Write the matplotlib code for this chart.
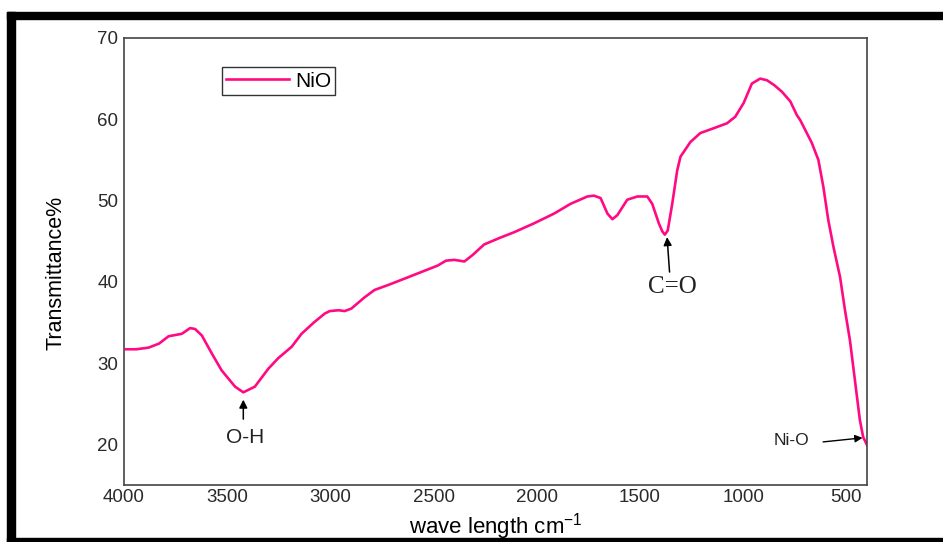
import matplotlib
matplotlib.use('Agg')
import matplotlib.pyplot as plt
from matplotlib.patches import Rectangle

plt.rcParams['font.family'] = ['Liberation Sans', 'DejaVu Sans']
plt.rcParams['mathtext.fontset'] = 'custom'
plt.rcParams['mathtext.rm'] = 'Liberation Sans'

# FTIR spectrum of NiO (wavenumber in cm-1, transmittance in %)
wavenumber = [3990, 3940, 3881, 3830, 3784, 3720, 3680, 3656, 3623, 3575,
              3527, 3462, 3422, 3366, 3301, 3253, 3188, 3140, 3080, 3027,
              3003, 2960, 2931, 2899, 2834, 2786, 2721, 2640, 2560, 2480,
              2440, 2400, 2375, 2351, 2311, 2255, 2180, 2110, 2013, 1916,
              1836, 1755, 1723, 1691, 1658, 1634, 1610, 1562, 1513, 1465,
              1441, 1409, 1392, 1380, 1366, 1344, 1320, 1304, 1256, 1208,
              1143, 1079, 1039, 998, 958, 918, 885, 850, 813, 772,
              740, 724, 700, 668, 636, 612, 588, 563, 531, 507,
              483, 459, 435, 419, 400]
transmittance = [31.7, 31.7, 31.9, 32.4, 33.3, 33.6, 34.3, 34.2, 33.4, 31.2,
                 29.1, 27.1, 26.4, 27.1, 29.3, 30.6, 32.0, 33.6, 35.0, 36.1,
                 36.4, 36.5, 36.4, 36.7, 38.1, 39.0, 39.6, 40.4, 41.2, 42.0,
                 42.6, 42.7, 42.6, 42.5, 43.3, 44.6, 45.4, 46.1, 47.2, 48.4,
                 49.6, 50.5, 50.6, 50.3, 48.4, 47.7, 48.2, 50.1, 50.5, 50.5,
                 49.6, 47.2, 46.2, 45.8, 46.3, 49.6, 53.7, 55.4, 57.2, 58.3,
                 58.9, 59.5, 60.3, 62.0, 64.4, 65.0, 64.8, 64.2, 63.4, 62.2,
                 60.5, 59.9, 58.7, 57.1, 55.0, 51.7, 47.6, 44.3, 40.6, 36.5,
                 32.8, 27.9, 23.0, 20.9, 19.9]

x_ticks = [4000, 3500, 3000, 2500, 2000, 1500, 1000, 500]
y_ticks = [20, 30, 40, 50, 60, 70]

# band labels: (text, arrow tip, arrow tail, text position, font family, size)
bands = [
    ('O-H', (3422, 25.5), (3422, 23.1), (3411, 20.9), 'Liberation Sans', 15),
    ('C=O', (1369, 45.5), (1357, 41.2), (1343, 39.3), 'Liberation Serif', 18),
]

fig = plt.figure(figsize=(9.43, 5.42), dpi=100)
ax = fig.add_axes([0.1315, 0.1052, 0.788, 0.8247])

ax.plot(wavenumber, transmittance, color='#ff0a82', lw=1.9, label='NiO')

ax.set_xlim(4000, 400)
ax.set_ylim(15, 70)
ax.set_xticks(x_ticks)
ax.set_yticks(y_ticks)
ax.tick_params(length=0, labelsize=13.5, labelcolor='#2a2a2a')
ax.tick_params(axis='x', pad=3)
ax.tick_params(axis='y', pad=4)
for sp in ax.spines.values():
    sp.set_color('#444444')
    sp.set_linewidth(1.2)

ax.set_xlabel('wave length cm$^{-1}$', fontsize=16)
ax.xaxis.set_label_coords(0.5, -0.058)
ax.set_ylabel('Transmittance%', fontsize=15.5)
ax.yaxis.set_label_coords(-0.077, 0.474)

for text, tip, tail, pos, fam, size in bands:
    ax.annotate('', xy=tip, xytext=tail,
                arrowprops=dict(arrowstyle='-|>', color='black', lw=1.1,
                                mutation_scale=12, shrinkA=0, shrinkB=0))
    ax.text(pos[0], pos[1], text, family=fam, fontsize=size,
            ha='center', va='center', color='#222222')

# Ni-O band sits at the right edge
ax.annotate('', xy=(422, 20.8), xytext=(613, 20.3),
            arrowprops=dict(arrowstyle='-|>', color='black', lw=1.0,
                            mutation_scale=11, shrinkA=0, shrinkB=0))
ax.text(768, 20.5, 'Ni-O', fontsize=12.5, ha='center', va='center',
        color='#222222')

leg = ax.legend(loc='upper left', bbox_to_anchor=(0.132, 0.934),
                borderaxespad=0, fontsize=15, fancybox=False,
                handlelength=3.0, handletextpad=0.3, borderpad=0.2,
                framealpha=1)
leg.get_frame().set_edgecolor('#333333')
leg.get_frame().set_linewidth(1.0)

# thick black frame on the top, left and bottom of the figure
W, H = 943.0, 542.0
fig.patches.append(Rectangle((7 / W, 1 - 19 / H), 1, 7 / H,
                             transform=fig.transFigure, color='black'))
fig.patches.append(Rectangle((7 / W, 0), 8 / W, 1 - 12 / H,
                             transform=fig.transFigure, color='black'))
fig.patches.append(Rectangle((7 / W, 0), 1, 4.5 / H,
                             transform=fig.transFigure, color='black'))

fig.savefig('out.png', dpi=100)
